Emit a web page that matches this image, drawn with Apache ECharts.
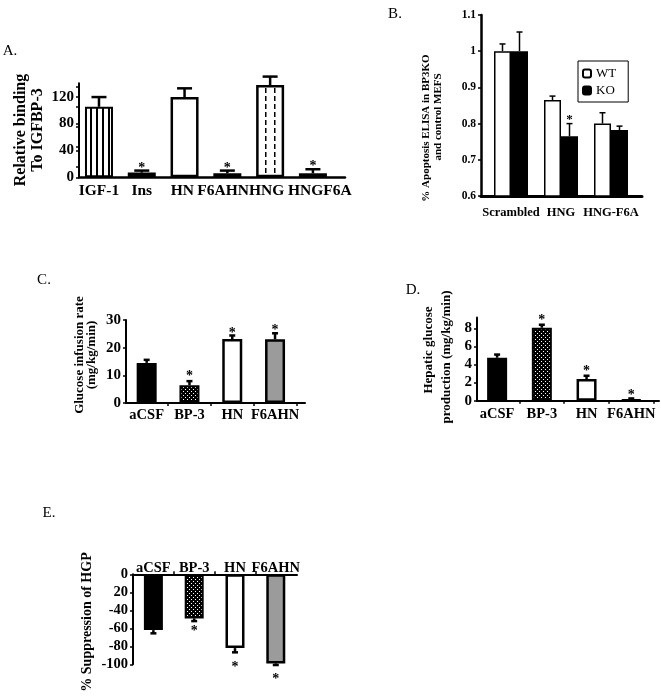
<!DOCTYPE html>
<html><head><meta charset="utf-8">
<script src="https://cdn.jsdelivr.net/npm/echarts@6/dist/echarts.min.js"></script>
<style>html,body{margin:0;padding:0;background:#fff}#c{width:661px;height:699px}</style>
</head><body><div id="c"></div>
<script>
// ---------- DATA ----------
// Panel A
const catsA = ['IGF-1', 'Ins', 'HN', 'F6AHN', 'HNG', 'HNGF6A'];
const valsA = [105, 7, 119.5, 6, 137.5, 6];
const errA  = [119.5, 10, 132.5, 10, 150, 12];
const starsA = [null, 19, null, 19, null, 21];
const ticksA = ['0', '40', '80', '120'];

// Panel B
const catsB = ['Scrambled', 'HNG', 'HNG-F6A'];
const wtB = [1.0, 0.865, 0.80];
const koB = [1.0, 0.765, 0.782];
const wtErrB = [1.02, 0.876, 0.83];
const koErrB = [1.053, 0.80, 0.793];
const starsKoB = [null, 0.82, null];
const ticksB = ['0.6', '0.7', '0.8', '0.9', '1', '1.1'];

// Panel C
const catsC = ['aCSF', 'BP-3', 'HN', 'F6AHN'];
const valsC = [14.5, 6.4, 23.1, 23.0];
const errC  = [15.6, 7.9, 24.4, 25.2];
const starsC = [null, 10.8, 26.4, 27.6];
const ticksC = ['0', '10', '20', '30'];

// Panel D
const catsD = ['aCSF', 'BP-3', 'HN', 'F6AHN'];
const valsD = [4.75, 8.07, 2.4, 0.1];
const errD  = [5.1, 8.4, 2.76, 0.25];
const starsD = [null, 9.3, 3.6, 1.0];
const ticksD = ['0', '2', '4', '6', '8'];

// Panel E
const catsE = ['aCSF', 'BP-3', 'HN', 'F6AHN'];
const valsE = [-62, -49, -82, -99];
const errE  = [-65.6, -52, -86.7, -100.8];
const starsE = [null, -59, -99, -112.7];
const ticksE = ['0', '20', '-40', '-60', '-80', '-100'];

// ---------- STYLE HELPERS ----------
const FONT = '"Liberation Serif", "DejaVu Serif", serif';
function pattern(w, h, draw) {
  const c = document.createElement('canvas'); c.width = w; c.height = h;
  draw(c.getContext('2d')); return { image: c, repeat: 'repeat' };
}
const stripes = pattern(6, 4, x => { x.fillStyle = '#fff'; x.fillRect(0, 0, 6, 4); x.fillStyle = '#000'; x.fillRect(0, 0, 2, 4); });
const dashes = pattern(9, 8, x => { x.fillStyle = '#fff'; x.fillRect(0, 0, 9, 8); x.fillStyle = '#000'; x.fillRect(4, 0, 1.5, 5); });
const dots = pattern(4, 4, x => { x.fillStyle = '#000'; x.fillRect(0, 0, 4, 4); x.fillStyle = '#fff'; x.fillRect(1, 1, 1, 1); x.fillRect(3, 3, 1, 1); });
const GRAY = '#9b9b9b';

const styleA = [
  { color: stripes, borderColor: '#000', borderWidth: 2 },
  { color: '#000', borderColor: '#000', borderWidth: 2 },
  { color: '#fff', borderColor: '#000', borderWidth: 2.5 },
  { color: '#000', borderColor: '#000', borderWidth: 2 },
  { color: dashes, borderColor: '#000', borderWidth: 2.5 },
  { color: '#fff', borderColor: '#000', borderWidth: 2.5 }
];
const styleCDE = [
  { color: '#000', borderColor: '#000', borderWidth: 2 },
  { color: dots, borderColor: '#000', borderWidth: 2 },
  { color: '#fff', borderColor: '#000', borderWidth: 2.5 },
  { color: GRAY, borderColor: '#000', borderWidth: 2.5 }
];

function xAxisCfg(g, cats, min, max, tickVals, opts) {
  opts = opts || {};
  const labelPos = cats.map((c, i) => i + ((opts.labelShift && opts.labelShift[i]) || 0));
  return {
    type: 'value', gridIndex: g, min: min, max: max,
    position: opts.position || 'bottom',
    splitLine: { show: false },
    axisLine: { show: true, onZero: false, lineStyle: { color: '#000', width: opts.lw || 2 } },
    axisTick: { show: !!tickVals, customValues: tickVals || [], length: 3, lineStyle: { color: '#000', width: 1.5 } },
    axisLabel: {
      customValues: labelPos, margin: opts.margin != null ? opts.margin : 6,
      showMinLabel: true, showMaxLabel: true, hideOverlap: false,
      formatter: v => cats[Math.round(v)] || '',
      color: '#000', fontFamily: FONT, fontWeight: 'bold', fontSize: opts.fs || 14.5
    }
  };
}
function yAxisCfg(g, min, max, step, labels, opts) {
  opts = opts || {};
  const vals = labels.map((l, i) => +(min + i * step).toFixed(6));
  if (opts.reverse) vals.reverse();
  return {
    type: 'value', gridIndex: g, min: min, max: max,
    splitLine: { show: false },
    axisLine: { show: true, onZero: false, lineStyle: { color: '#000', width: opts.lw || 2 } },
    axisTick: { show: true, customValues: vals, length: 3, lineStyle: { color: '#000', width: 1.5 } },
    minorTick: { show: !!opts.minor, splitNumber: 2, length: 3, lineStyle: { color: '#000', width: 1.5 } },
    axisLabel: {
      customValues: vals, margin: opts.margin || 5,
      showMinLabel: true, showMaxLabel: true,
      formatter: v => {
        let idx = Math.round((v - min) / step);
        if (opts.reverse) idx = Math.round((max - v) / step);
        return labels[idx] || '';
      },
      color: '#000', fontFamily: FONT, fontWeight: 'bold', fontSize: opts.fs || 15
    }
  };
}
function barSeries(g, vals, styles, bw, extra) {
  return Object.assign({
    type: 'bar', xAxisIndex: g, yAxisIndex: g, barWidth: bw,
    data: vals.map((v, i) => ({ value: [i, v], itemStyle: styles ? styles[i] : undefined })),
    animation: false
  }, extra || {});
}
function errSeries(g, vals, errs, capW, lw, off) {
  return {
    type: 'custom', xAxisIndex: g, yAxisIndex: g, z: 5, clip: false, animation: false,
    encode: { x: 0, y: [1, 2] },
    data: vals.map((v, i) => [i, v, errs[i]]),
    renderItem: (params, api) => {
      const p1 = api.coord([api.value(0), api.value(1)]);
      const p2 = api.coord([api.value(0), api.value(2)]);
      const cx = p1[0] + (off || 0);
      return { type: 'group', children: [
        { type: 'line', shape: { x1: cx, y1: p1[1], x2: cx, y2: p2[1] }, style: { stroke: '#000', lineWidth: lw } },
        { type: 'line', shape: { x1: cx - capW / 2, y1: p2[1], x2: cx + capW / 2, y2: p2[1] }, style: { stroke: '#000', lineWidth: lw } }
      ] };
    }
  };
}
function starSeries(g, stars, off, fs) {
  return {
    type: 'custom', xAxisIndex: g, yAxisIndex: g, z: 6, clip: false, animation: false,
    encode: { x: 0, y: 1 },
    data: stars.map((v, i) => v == null ? null : [i, v]).filter(Boolean),
    renderItem: (params, api) => {
      const p = api.coord([api.value(0), api.value(1)]);
      return { type: 'text', x: p[0] + (off || 0), y: p[1] + (fs || 14) * 0.25,
        style: { text: '*', fill: '#000', font: 'bold ' + (fs || 14) + 'px ' + FONT, align: 'center', verticalAlign: 'middle' } };
    }
  };
}
function txt(t, x, y, fs, bold, rot) {
  return { type: 'text', x: x, y: y, rotation: rot ? Math.PI / 2 : 0,
    style: { text: t, fill: '#000', font: (bold ? 'bold ' : '') + fs + 'px ' + FONT, align: 'center', verticalAlign: 'middle' } };
}

// ---------- CHART ----------
const chart = echarts.init(document.getElementById('c'), null, { renderer: 'canvas' });
chart.setOption({
  backgroundColor: '#fff',
  animation: false,
  grid: [
    { left: 79, top: 83.3, width: 266, height: 94 },
    { left: 481, top: 15, width: 161, height: 181 },
    { left: 126, top: 320, width: 179, height: 83 },
    { left: 477, top: 317.5, width: 182, height: 83.2 },
    { left: 133, top: 574.3, width: 164, height: 90 }
  ],
  xAxis: [
    xAxisCfg(0, catsA, -0.467, 5.75, null, { lw: 2.5, fs: 15.5, margin: 6, labelShift: [0, 0, -0.05, -0.1, -0.08, 0.16] }),
    xAxisCfg(1, catsB, -0.6, 2.62, null, { lw: 3, fs: 12.5, margin: 10 }),
    xAxisCfg(2, catsC, -0.483, 3.70, [0.5, 1.5, 2.5, 3.5], { fs: 14.5, margin: 5 }),
    xAxisCfg(3, catsD, -0.45, 3.62, [0.5, 1.5, 2.5, 3.5], { fs: 14.5, margin: 6 }),
    xAxisCfg(4, catsE, -0.5, 3.52, [0.5, 1.5, 2.5], { position: 'top', fs: 14.5, margin: -1 })
  ],
  yAxis: [
    yAxisCfg(0, 0, 140, 40, ticksA, { minor: true, fs: 15 }),
    yAxisCfg(1, 0.6, 1.1, 0.1, ticksB, { fs: 11.5, lw: 2.5 }),
    yAxisCfg(2, 0, 30, 10, ticksC, { fs: 15 }),
    yAxisCfg(3, 0, 9.2, 2, ticksD, { fs: 15 }),
    yAxisCfg(4, -100, 0, 20, ticksE, { fs: 14.5, reverse: true })
  ],
  legend: {
    left: 578, top: 61, orient: 'vertical', borderColor: '#000', borderWidth: 1,
    padding: [6, 12, 5, 4], itemWidth: 8, itemHeight: 8, itemGap: 4,
    textStyle: { fontFamily: FONT, fontSize: 13, color: '#000' },
    data: ['WT', 'KO']
  },
  series: [
    // A
    barSeries(0, valsA, styleA, 28),
    errSeries(0, valsA, errA, 15, 2.5),
    starSeries(0, starsA, 0, 14),
    // B
    barSeries(1, wtB, null, 17, { name: 'WT', barGap: '0%', itemStyle: { color: '#fff', borderColor: '#000', borderWidth: 1.5 } }),
    barSeries(1, koB, null, 17, { name: 'KO', barGap: '0%', itemStyle: { color: '#000', borderColor: '#000', borderWidth: 1.5 } }),
    errSeries(1, wtB, wtErrB, 6, 1.5, -8.5),
    errSeries(1, koB, koErrB, 6, 1.5, 8.5),
    starSeries(1, starsKoB, 8.5, 13),
    // C
    barSeries(2, valsC, styleCDE, 20),
    errSeries(2, valsC, errC, 6, 2.5),
    starSeries(2, starsC, 0, 14),
    // D
    barSeries(3, valsD, styleCDE, 20),
    errSeries(3, valsD, errD, 6, 2.5),
    starSeries(3, starsD, 0, 14),
    // E
    barSeries(4, valsE, styleCDE, 19),
    errSeries(4, valsE, errE, 6, 2.5),
    starSeries(4, starsE, 0, 14)
  ],
  graphic: [
    txt('A.', 10, 51, 15, false),
    txt('B.', 395, 14, 15, false),
    txt('C.', 44, 280, 15, false),
    txt('D.', 413, 290, 15, false),
    txt('E.', 49, 513, 15, false),
    txt('Relative binding', 21, 130, 16, true, true),
    txt('To IGFBP-3', 38, 130, 16, true, true),
    txt('% Apoptosis ELISA in BP3KO', 426, 128, 11, true, true),
    txt('and control MEFS', 438, 117, 11, true, true),
    txt('Glucose infusion rate', 79.5, 355, 13, true, true),
    txt('(mg/kg/min)', 92, 355, 13, true, true),
    txt('Hepatic glucose', 429, 350, 13, true, true),
    txt('production (mg/kg/min)', 447, 357, 13, true, true),
    txt('% Suppression of HGP', 87, 622, 14, true, true)
  ]
});
</script>
</body></html>
